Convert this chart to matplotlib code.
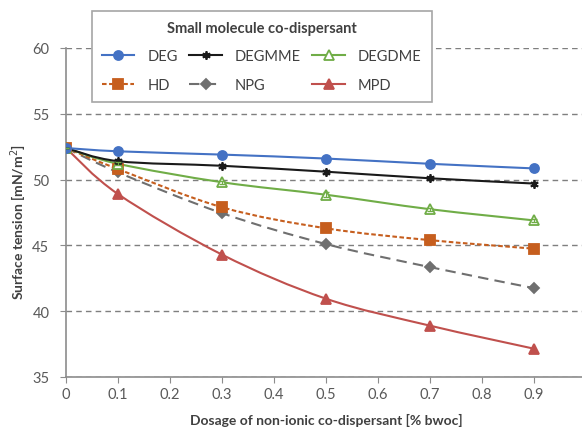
import numpy as np
import matplotlib
matplotlib.use('Agg')
import matplotlib.pyplot as plt
from matplotlib.path import Path
from matplotlib.patches import PathPatch
from matplotlib.lines import Line2D

plt.rcParams['font.family'] = ['Lato', 'DejaVu Sans']

# dosage [% bwoc]
dosage = [0, 0.1, 0.3, 0.5, 0.7, 0.9]

# surface tension [mN/m2]
deg = [52.4, 52.15, 51.9, 51.6, 51.2, 50.85]
degmme = [52.4, 51.4, 51.05, 50.6, 50.1, 49.7]
degdme = [52.4, 51.2, 49.8, 48.85, 47.75, 46.9]
hd = [52.4, 50.8, 47.9, 46.3, 45.4, 44.75]
npg = [52.4, 50.55, 47.45, 45.1, 43.35, 41.75]
mpd = [52.4, 48.9, 44.3, 40.95, 38.9, 37.15]

# small error bars
err_degmme = [0, 0.2, 0.15, 0.15, 0.1, 0.1]
err_degdme = [0, 0.1, 0.1, 0.2, 0.1, 0.1]

names = ['DEG', 'DEGMME', 'DEGDME', 'HD', 'NPG', 'MPD']


def smooth_path(x, y):
    """excel style smoothed line as cubic bezier segments"""
    x = np.asarray(x, float)
    y = np.asarray(y, float)
    verts = [(x[0], y[0])]
    codes = [Path.MOVETO]
    n = len(x)
    for i in range(n - 1):
        x0, y0 = (x[i - 1], y[i - 1]) if i > 0 else (x[i], y[i])
        x3, y3 = (x[i + 2], y[i + 2]) if i + 2 < n else (x[i + 1], y[i + 1])
        c1 = (x[i] + (x[i + 1] - x0) / 6, y[i] + (y[i + 1] - y0) / 6)
        c2 = (x[i + 1] - (x3 - x[i]) / 6, y[i + 1] - (y3 - y[i]) / 6)
        verts += [c1, c2, (x[i + 1], y[i + 1])]
        codes += [Path.CURVE4] * 3
    return Path(verts, codes)


fig = plt.figure(figsize=(5.82, 4.31), dpi=100)
ax = fig.add_axes([66 / 582, 53 / 431, 520 / 582, 329 / 431])

styles = {
    'DEG': dict(color='#4472C4', marker='o', ls='-', mfc='#4472C4', ms=6.5),
    'DEGMME': dict(color='#1a1a1a', marker=(6, 2, 0), ls='-', mfc='#1a1a1a', ms=6),
    'DEGDME': dict(color='#70AD47', marker='^', ls='-', mfc='white', ms=6.5),
    'HD': dict(color='#C65E1E', marker='s', ls=(0, (2.2, 1.2)), mfc='#C65E1E', ms=7.5),
    'NPG': dict(color='#6F6F6F', marker='D', ls=(0, (5, 3)), mfc='#6F6F6F', ms=5),
    'MPD': dict(color='#C0504D', marker='^', ls='-', mfc='#C0504D', ms=7),
}
series = [deg, degmme, degdme, hd, npg, mpd]

for y, name in zip(series[::-1], names[::-1]):
    st = styles[name]
    patch = PathPatch(smooth_path(dosage, y), fill=False, edgecolor=st['color'],
                      lw=1.5, linestyle=st['ls'], zorder=3)
    ax.add_patch(patch)
    ax.plot(dosage, y, ls='none', marker=st['marker'], ms=st['ms'],
            mfc=st['mfc'], mec=st['color'], mew=1.3, zorder=4)

ax.errorbar(dosage, degmme, yerr=err_degmme, fmt='none', ecolor='#1a1a1a',
            elinewidth=0.8, capsize=2.5, zorder=5)
ax.errorbar(dosage, degdme, yerr=err_degdme, fmt='none', ecolor='#70AD47',
            elinewidth=0.8, capsize=2.5, zorder=5)

ax.set_xlim(0, 1.0)
ax.set_ylim(35, 60)
ax.set_xticks(np.arange(0, 1.0, 0.1))
ax.set_xticklabels(['0', '0.1', '0.2', '0.3', '0.4', '0.5', '0.6', '0.7', '0.8', '0.9'])
ax.set_yticks([35, 40, 45, 50, 55, 60])

ax.yaxis.grid(True, color='#7f7f7f', ls=(0, (4, 3)), lw=1)
ax.set_axisbelow(True)
for s in ['top', 'right']:
    ax.spines[s].set_visible(False)
for s in ['left', 'bottom']:
    ax.spines[s].set_color('#8c8c8c')
    ax.spines[s].set_linewidth(1.2)
ax.tick_params(colors='#8c8c8c', labelcolor='#595959', labelsize=10.5, length=4,
               direction='out')
ax.tick_params(axis='x', pad=3)
ax.tick_params(axis='y', pad=8)

ax.set_xlabel('Dosage of non-ionic co-dispersant [% bwoc]', fontsize=10,
              fontweight='bold', color='#404040', va='center')
ax.set_ylabel('Surface tension [mN/m$^2$]', fontsize=10, fontweight='bold',
              color='#404040', va='center')
ax.xaxis.set_label_coords(0.5, -42 / 329)
ax.yaxis.set_label_coords(-47 / 520, 156 / 329)

# legend proxies, column order
handles = []
for name in ['DEG', 'HD', 'DEGMME', 'NPG', 'DEGDME', 'MPD']:
    st = styles[name]
    handles.append(Line2D([], [], color=st['color'], ls=st['ls'], lw=1.5,
                          marker=st['marker'], ms=st['ms'], mfc=st['mfc'],
                          mec=st['color'], mew=1.3))
labels = ['DEG', 'HD', 'DEGMME', 'NPG', 'DEGDME', 'MPD']
leg = fig.legend(handles, labels, loc='upper left', ncol=3,
                 bbox_to_anchor=(92 / 582, 1 - 12 / 431), borderaxespad=0,
                 title='Small molecule co-dispersant',
                 title_fontproperties={'weight': 'bold', 'size': 10.5},
                 fontsize=10.5, frameon=True, fancybox=False, edgecolor='#a6a6a6',
                 framealpha=1, handlelength=2.2, handletextpad=0.9,
                 borderpad=0.7, labelspacing=1.0, columnspacing=0.8)
leg.get_title().set_color('#404040')
leg._legend_box.sep = 10
for t in leg.get_texts():
    t.set_color('#404040')
leg.get_frame().set_linewidth(1.2)

fig.savefig('out.png', dpi=100)
